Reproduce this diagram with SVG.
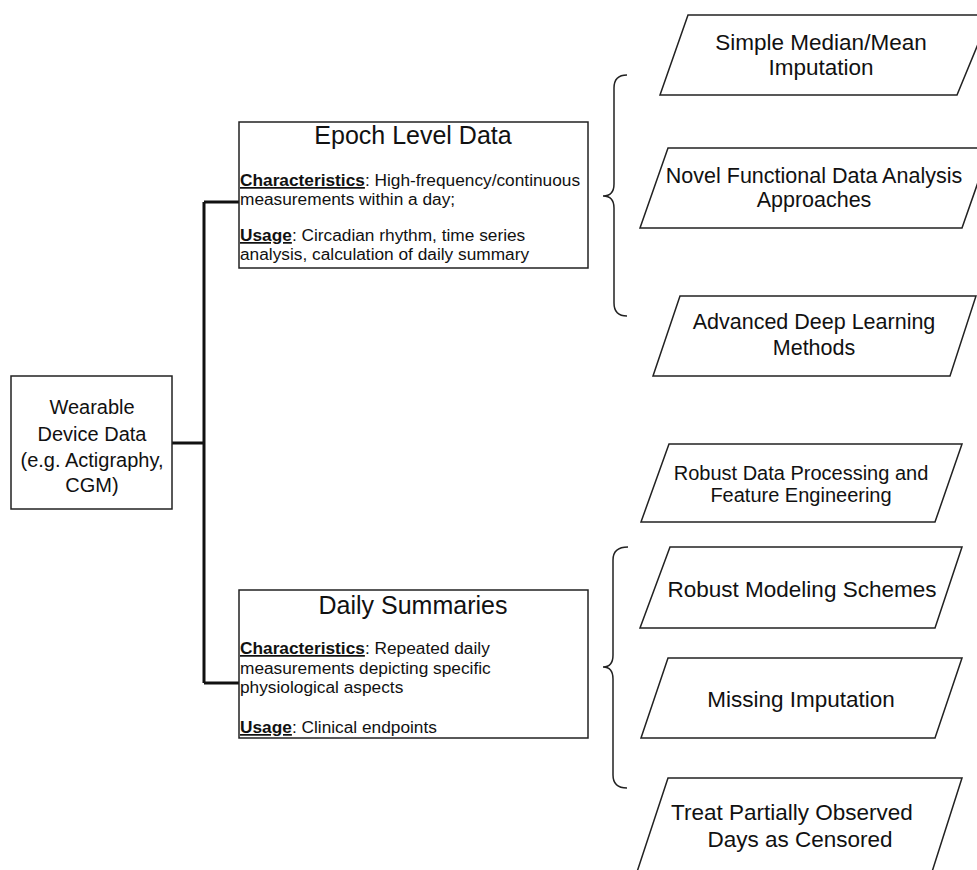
<svg xmlns="http://www.w3.org/2000/svg" width="977" height="870" viewBox="0 0 977 870">
<style>
text{font-family:"Liberation Sans",Arial,sans-serif;fill:#111}
.box{fill:#fff;stroke:#222;stroke-width:1.5}
.para{fill:#fff;stroke:#222;stroke-width:1.5}
.conn{fill:none;stroke:#111;stroke-width:3}
.brace{fill:none;stroke:#222;stroke-width:1.5}
.t20{font-size:20px;text-anchor:middle}
.t21{font-size:21.5px;text-anchor:middle}
.t22{font-size:22.5px;text-anchor:middle}
.title{font-size:25px;text-anchor:middle}
.body{font-size:17.3px}
.u{font-weight:bold;text-decoration:underline}
</style>
<rect width="977" height="870" fill="#fff"/>
<g id="connectors">
<path class="conn" d="M172,443 H204 M204,202 V683 M204,202 H239 M204,683 H239"/>
<path class="brace" d="M627,75 Q614,75 614,88 L614,184 Q614,196 603,196 Q614,196 614,208 L614,303 Q614,316 627,316"/>
<path class="brace" d="M628,547 Q613,547 613,560 L613,655 Q613,667 603,667 Q613,667 613,679 L613,775 Q613,788 627,788"/>
</g>
<g id="wearable">
<rect class="box" x="11" y="376" width="161" height="133"/>
<text class="t20" x="92" y="414">Wearable</text>
<text class="t20" x="92" y="441">Device Data</text>
<text class="t20" x="92" y="467">(e.g. Actigraphy,</text>
<text class="t20" x="92" y="492">CGM)</text>
</g>
<g id="epoch">
<rect class="box" x="239" y="122" width="349" height="146"/>
<text class="title" x="413" y="144">Epoch Level Data</text>
<text class="body" x="240" y="186"><tspan class="u">Characteristics</tspan>: High-frequency/continuous</text>
<text class="body" x="240" y="205">measurements within a day;</text>
<text class="body" x="240" y="241"><tspan class="u">Usage</tspan>: Circadian rhythm, time series</text>
<text class="body" x="240" y="260">analysis, calculation of daily summary</text>
</g>
<g id="daily">
<rect class="box" x="239" y="590" width="349" height="148"/>
<text class="title" x="413" y="614">Daily Summaries</text>
<text class="body" x="240" y="654"><tspan class="u">Characteristics</tspan>: Repeated daily</text>
<text class="body" x="240" y="674">measurements depicting specific</text>
<text class="body" x="240" y="693">physiological aspects</text>
<text class="body" x="240" y="733"><tspan class="u">Usage</tspan>: Clinical endpoints</text>
</g>
<g id="simple">
<polygon class="para" points="688,15 990,15 957,95 660,95"/>
<text class="t22" x="821" y="50">Simple Median/Mean</text>
<text class="t22" x="821" y="75">Imputation</text>
</g>
<g id="novel">
<polygon class="para" points="668,148 990,148 962,228 640,228"/>
<text class="t21" x="814" y="183">Novel Functional Data Analysis</text>
<text class="t21" x="814" y="207">Approaches</text>
</g>
<g id="deep">
<polygon class="para" points="680,296 976,296 950,376 653,376"/>
<text class="t21" x="814" y="329">Advanced Deep Learning</text>
<text class="t21" x="814" y="355">Methods</text>
</g>
<g id="robust-data">
<polygon class="para" points="669,444 962,444 935,522 641,522"/>
<text class="t20" x="801" y="480">Robust Data Processing and</text>
<text class="t20" x="801" y="502">Feature Engineering</text>
</g>
<g id="robust-model">
<polygon class="para" points="670,547 962,547 935,628 640,628"/>
<text class="t22" x="802" y="597">Robust Modeling Schemes</text>
</g>
<g id="missing">
<polygon class="para" points="668,658 962,658 935,738 641,738"/>
<text class="t22" x="801" y="707">Missing Imputation</text>
</g>
<g id="censored">
<polygon class="para" points="668,778 962,778 931,875 636,875"/>
<text class="t22" x="792" y="820">Treat Partially Observed</text>
<text class="t22" x="800" y="847">Days as Censored</text>
</g>
</svg>
